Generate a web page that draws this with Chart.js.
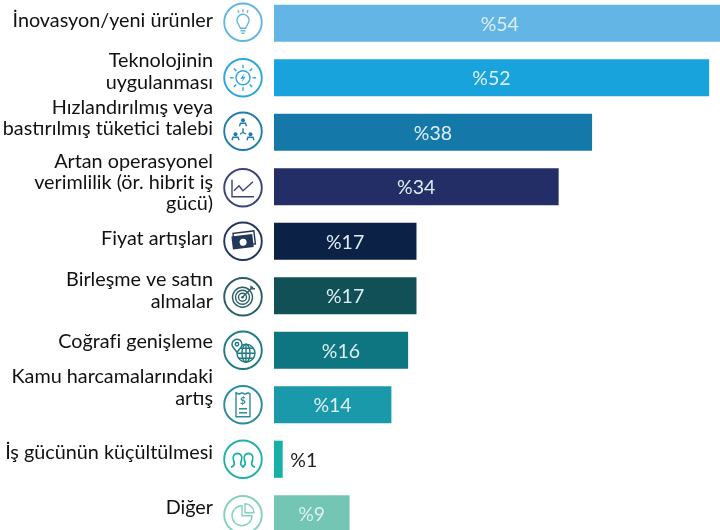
<!DOCTYPE html>
<html lang="tr">
<head>
<meta charset="utf-8">
<title>Chart</title>
<script src="https://cdn.jsdelivr.net/npm/chart.js@4"></script>
<style>
  html, body { margin: 0; padding: 0; background: #fff; width: 720px; height: 530px; overflow: hidden; }
  #wrap { position: absolute; left: 0; top: -10px; width: 760px; height: 560px; }
</style>
</head>
<body>
<div id="wrap"><canvas id="chart"></canvas></div>
<script>
const categories = [
  ["İnovasyon/yeni ürünler"],
  ["Teknolojinin", "uygulanması"],
  ["Hızlandırılmış veya", "bastırılmış tüketici talebi"],
  ["Artan operasyonel", "verimlilik (ör. hibrit iş", "gücü)"],
  ["Fiyat artışları"],
  ["Birleşme ve satın", "almalar"],
  ["Coğrafi genişleme"],
  ["Kamu harcamalarındaki", "artış"],
  ["İş gücünün küçültülmesi"],
  ["Diğer"]
];
const values = [54, 52, 38, 34, 17, 17, 16, 14, 1, 9];
const barColors = ["#62b5e5", "#18a3dd", "#1479a9", "#232e66", "#0b2146", "#115057", "#0d7680", "#1a99ab", "#17b0a7", "#72c6b3"];
const iconColors = ["#62b5e5", "#2ba6e0", "#1f7dac", "#3b4379", "#22375a", "#2a5f66", "#1f7a84", "#2b8c9c", "#1fb0aa", "#86d0bf"];
// labels in the original sit a bit above their bars, not centred
const labelNudge = [-3, -6, -14, -4, -3, -5, -9, -17, -7, -6];
const iconNudge = [-1, 0, -1, 1, 0, 1, 0, 0, 0, 1];

const FONT = "Lato, Carlito, sans-serif";
const LABEL_SIZE = 19.8;
const LINE_H = 21.3;
const ICON_X = 243;

// tiny icon drawings, origin at circle centre
const icons = [
  function bulb(c) {
    c.beginPath(); c.arc(0, -2, 6, Math.PI * 0.8, Math.PI * 0.2); c.lineTo(2.5, 6); c.lineTo(-2.5, 6); c.closePath(); c.stroke();
    c.beginPath(); c.moveTo(-2.5, 8.5); c.lineTo(2.5, 8.5); c.moveTo(-1.5, 11); c.lineTo(1.5, 11); c.stroke();
    c.beginPath(); c.moveTo(0, -13); c.lineTo(0, -10); c.moveTo(-5, -12); c.lineTo(-4, -9.5); c.moveTo(5, -12); c.lineTo(4, -9.5); c.stroke();
  },
  function tech(c) {
    c.beginPath(); c.arc(0, 0, 7, 0, Math.PI * 2); c.stroke();
    for (let i = 0; i < 8; i++) {
      const a = i * Math.PI / 4;
      c.beginPath(); c.moveTo(Math.cos(a) * 9.5, Math.sin(a) * 9.5); c.lineTo(Math.cos(a) * 13, Math.sin(a) * 13); c.stroke();
    }
    c.beginPath(); c.moveTo(1.5, -5); c.lineTo(-2.5, 1); c.lineTo(0, 1); c.lineTo(-1.5, 5); c.lineTo(2.5, -1); c.lineTo(0, -1); c.closePath(); c.fill();
  },
  function network(c) {
    const person = (x, y) => {
      c.beginPath(); c.arc(x, y - 3, 2, 0, Math.PI * 2); c.fill();
      c.beginPath(); c.moveTo(x - 3.5, y + 3); c.lineTo(x - 2.5, y); c.lineTo(x + 2.5, y); c.lineTo(x + 3.5, y + 3); c.stroke();
    };
    person(0, -8); person(-7.5, 6); person(7.5, 6);
    c.beginPath(); c.moveTo(0, -3); c.lineTo(0, 1); c.lineTo(-3, 3); c.moveTo(0, 1); c.lineTo(3, 3); c.stroke();
  },
  function lineChart(c) {
    c.beginPath(); c.moveTo(-11, -8); c.lineTo(-11, 9); c.lineTo(11, 9); c.stroke();
    c.beginPath(); c.moveTo(-9, 3); c.lineTo(-4, -2); c.lineTo(0, 3); c.lineTo(10, -6); c.stroke();
  },
  function money(c) {
    c.save(); c.rotate(-0.12);
    c.fillRect(-11, -6, 21, 13);
    c.strokeRect(-9, -9, 21, 13);
    c.fillStyle = "#fff";
    c.beginPath(); c.ellipse(0, 1, 3.5, 3.5, 0, 0, Math.PI * 2); c.fill();
    c.restore();
  },
  function target(c) {
    [10, 7, 4].forEach(r => { c.beginPath(); c.arc(-0.5, 0.5, r, 0, Math.PI * 2); c.stroke(); });
    c.beginPath(); c.arc(-0.5, 0.5, 1.3, 0, Math.PI * 2); c.fill();
    c.beginPath(); c.moveTo(-0.5, 0.5); c.lineTo(10, -10); c.moveTo(8, -11); c.lineTo(8, -8); c.lineTo(12, -8); c.stroke();
  },
  function globe(c) {
    c.beginPath(); c.arc(3, 3, 9, 0, Math.PI * 2); c.stroke();
    c.beginPath(); c.ellipse(3, 3, 4, 9, 0, 0, Math.PI * 2); c.stroke();
    c.beginPath(); c.moveTo(-6, 3); c.lineTo(12, 3); c.moveTo(-4.5, -2); c.lineTo(10.5, -2); c.moveTo(-4.5, 8); c.lineTo(10.5, 8); c.moveTo(3, -6); c.lineTo(3, 12); c.stroke();
    c.fillStyle = "#fff";
    c.beginPath(); c.arc(-6, -6, 5, Math.PI * 0.85, Math.PI * 0.15); c.lineTo(-6, 2); c.closePath(); c.fill(); c.stroke();
    c.beginPath(); c.arc(-6, -6, 1.7, 0, Math.PI * 2); c.stroke();
  },
  function receipt(c) {
    c.beginPath(); c.moveTo(-7, -12); c.lineTo(-4, -10.5); c.lineTo(-1, -12); c.lineTo(2, -10.5); c.lineTo(5, -12); c.lineTo(7, -11); c.lineTo(7, 12); c.lineTo(-7, 12); c.closePath(); c.stroke();
    c.font = "bold 10px " + FONT; c.textAlign = "center"; c.textBaseline = "middle"; c.fillText("$", 0, -3.5);
    c.beginPath(); c.moveTo(-4, 4); c.lineTo(4, 4); c.moveTo(-4, 8); c.lineTo(4, 8); c.stroke();
  },
  function loops(c) {
    // two rounded heads side by side, shoulders curling out
    c.lineWidth = 1.8;
    const arch = (x) => {
      c.beginPath();
      c.moveTo(x - 6.5, 8);
      c.bezierCurveTo(x - 3, 7, x - 2.5, 4, x - 4, 1);
      c.bezierCurveTo(x - 7, -8, x + 7, -8, x + 4, 1);
      c.bezierCurveTo(x + 2.5, 4, x + 3, 7, x + 6.5, 8);
      c.stroke();
    };
    arch(-5.5); arch(5.5);
  },
  function pie(c) {
    c.beginPath(); c.moveTo(-1, 1); c.lineTo(-1, -9); c.arc(-1, 1, 10, -Math.PI / 2, 0, true); c.closePath(); c.stroke();
    c.beginPath(); c.moveTo(2, -2); c.lineTo(2, -11); c.arc(2, -2, 9, -Math.PI / 2, 0); c.closePath(); c.stroke();
  }
];

const sidePlugin = {
  id: "side",
  afterDatasetsDraw(chart) {
    const c = chart.ctx, y = chart.scales.y, x = chart.scales.x;
    const bars = chart.getDatasetMeta(0).data;
    c.save();
    categories.forEach((lines, i) => {
      const py = y.getPixelForValue(i);
      // category text
      c.font = LABEL_SIZE + "px " + FONT;
      c.fillStyle = "#111";
      c.textAlign = "right";
      c.textBaseline = "middle";
      const top = py + labelNudge[i] - (lines.length - 1) * LINE_H / 2;
      lines.forEach((t, k) => c.fillText(t, 213, top + k * LINE_H));

      // value text
      const bar = bars[i];
      c.font = "19.5px " + FONT;
      const small = values[i] < 3;
      c.fillStyle = small ? "#222" : "#dfeef3";
      c.textAlign = small ? "left" : "center";
      const vx = small ? bar.x + 8 : (x.getPixelForValue(0) + bar.x) / 2;
      c.fillText("%" + values[i], vx, py + 1);

      // icon in its ring
      c.save();
      c.translate(ICON_X, py + iconNudge[i]);
      c.strokeStyle = iconColors[i];
      c.fillStyle = iconColors[i];
      c.lineWidth = 1.9;
      c.beginPath(); c.arc(0, 0, 18.8, 0, Math.PI * 2); c.stroke();
      c.lineWidth = 1.4;
      icons[i](c);
      c.restore();
    });
    c.restore();
  }
};

new Chart(document.getElementById("chart"), {
  type: "bar",
  data: {
    labels: categories,
    datasets: [{
      data: values,
      backgroundColor: barColors,
      barThickness: 36.5,
      borderWidth: 0
    }]
  },
  options: {
    indexAxis: "y",
    responsive: true,
    maintainAspectRatio: false,
    animation: false,
    layout: { padding: { top: 6, bottom: 9, right: 1, left: 0 } },
    plugins: { legend: { display: false }, tooltip: { enabled: false } },
    scales: {
      x: { display: false, min: 0, max: 58 },
      y: {
        ticks: { display: false },
        grid: { display: false },
        border: { display: false },
        afterFit(scale) { scale.width = 274; }
      }
    }
  },
  plugins: [sidePlugin]
});
</script>
</body>
</html>
